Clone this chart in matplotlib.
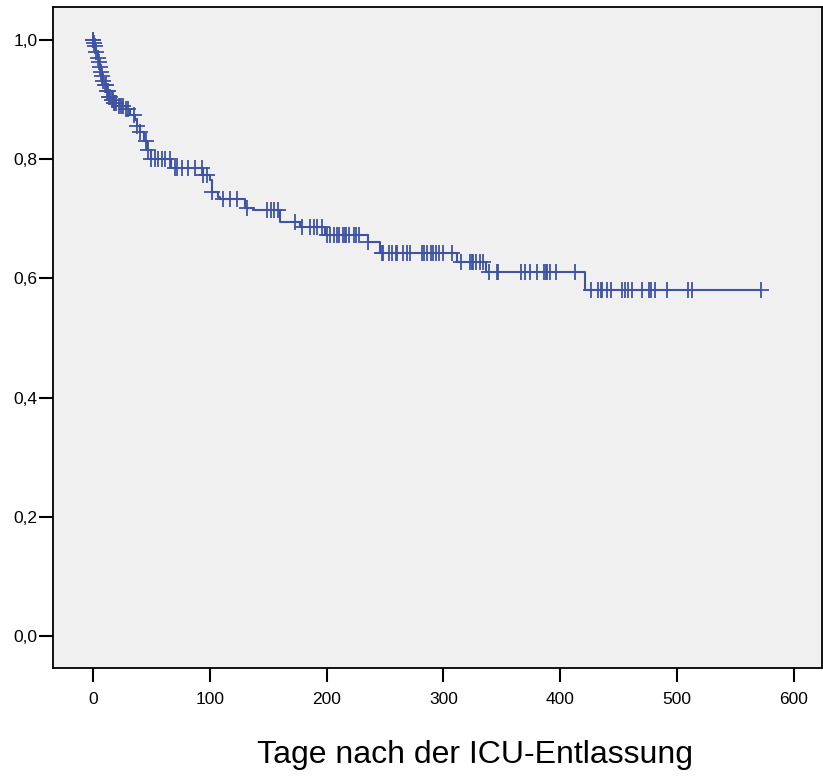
import numpy as np
import matplotlib.pyplot as plt

plt.rcParams['font.family'] = ['Liberation Sans', 'DejaVu Sans']

# Kaplan-Meier steps
event_t = [0, 1, 2, 3, 4, 5, 6, 7, 8, 9, 10, 12, 14, 16, 18, 22, 28, 32, 36, 38,
           40, 44, 46, 50, 67, 94, 100, 102, 107, 109, 130, 137, 160, 177, 199,
           235, 246, 312, 336, 421]
surv = [1.0, 0.995, 0.99, 0.98, 0.97, 0.963, 0.955, 0.947, 0.94, 0.932, 0.925,
        0.915, 0.905, 0.9, 0.895, 0.89, 0.885, 0.875, 0.865, 0.855, 0.845, 0.83,
        0.815, 0.80, 0.785, 0.773, 0.765, 0.745, 0.737, 0.733, 0.718, 0.715,
        0.695, 0.686, 0.673, 0.661, 0.643, 0.628, 0.611, 0.58]

# censored observations
censor_t = [0, 0, 1, 2, 3, 4, 5, 6, 7, 8, 9, 10, 11, 12, 13, 14, 15, 16, 17, 18,
            19, 20, 22, 24, 26, 28, 30, 35, 38, 40, 45, 47, 50, 53, 56,
            59, 62, 66, 70, 72, 76, 81, 87, 93, 94, 98, 102,
            111, 117, 123, 132, 149, 152, 155, 158, 173, 179, 186, 189, 192,
            196, 200, 203, 206, 209, 211, 214, 216, 217, 219, 223, 225, 228,
            235, 247, 248, 253, 256, 259, 260, 265, 269, 271, 282, 283, 286,
            289, 291, 294, 296, 300, 307, 315, 323, 324, 325, 328, 331, 334,
            339, 346, 347, 366, 370, 374, 380, 386, 388, 389, 391, 396, 413,
            426, 432, 435, 436, 440, 443, 453, 455, 458, 461, 470, 476, 478,
            481, 491, 509, 513, 572]

xticks = [0, 100, 200, 300, 400, 500, 600]
yticks = [0.0, 0.2, 0.4, 0.6, 0.8, 1.0]
xlabel = 'Tage nach der ICU-Entlassung'

color = '#3e53a4'

fig = plt.figure(figsize=(8.23, 7.77), dpi=100)
ax = fig.add_axes([0.0644, 0.1403, 0.9344, 0.8507])
ax.set_facecolor('#f0f0f0')
for s in ax.spines.values():
    s.set_linewidth(1.3)

xs = list(event_t) + [max(censor_t)]
ys = list(surv) + [surv[-1]]
ax.step(xs, ys, where='post', color=color, lw=1.5)

idx = np.searchsorted(event_t, censor_t, side='right') - 1
cy = np.array(surv)[idx]
ax.plot(censor_t, cy, ls='none', marker='+', ms=11, mew=1.3, color=color)

ax.set_xlim(-34.2, 624)
ax.set_ylim(-0.0537, 1.0554)
ax.set_xticks(xticks)
ax.set_yticks(yticks)
ax.set_yticklabels([f'{v:.1f}'.replace('.', ',') for v in yticks])
ax.tick_params(labelsize=12.5, length=10, width=1.5, direction='out')
ax.tick_params(axis='y', pad=1)
ax.tick_params(axis='x', pad=7)

# axis title sits right of the axes centre in the original
fig.text(475 / 823, 1 - 755 / 777, xlabel, fontsize=23, ha='center', va='center')

fig.savefig('out.png', dpi=100)
